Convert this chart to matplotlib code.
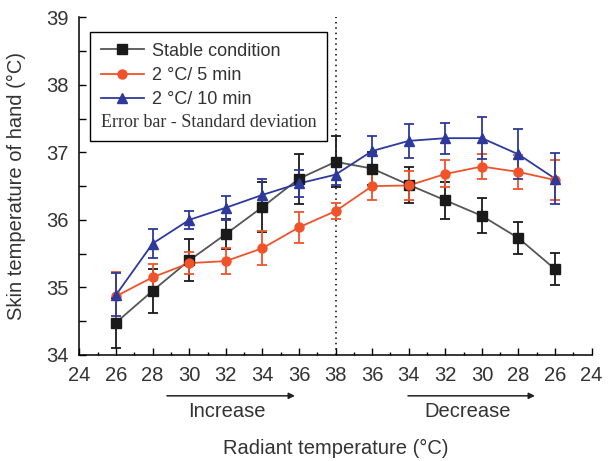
import matplotlib
matplotlib.use('Agg')
import matplotlib.pyplot as plt
from matplotlib.lines import Line2D
import matplotlib.transforms as mtransforms

plt.rcParams['font.family'] = ['Liberation Sans', 'DejaVu Sans']

# x positions 0..14, labels run 24 -> 38 -> 24
tick_labels = ['24', '26', '28', '30', '32', '34', '36', '38',
               '36', '34', '32', '30', '28', '26', '24']
x = list(range(1, 14))

stable = [34.48, 34.95, 35.40, 35.79, 36.19, 36.61, 36.86,
          36.76, 36.52, 36.29, 36.06, 35.73, 35.27]
stable_sd = [0.37, 0.33, 0.31, 0.22, 0.37, 0.37, 0.38,
             0.25, 0.27, 0.27, 0.26, 0.24, 0.24]

min5 = [34.87, 35.15, 35.36, 35.39, 35.58, 35.89, 36.13,
        36.50, 36.51, 36.68, 36.79, 36.71, 36.59]
min5_sd = [0.36, 0.20, 0.16, 0.19, 0.25, 0.23, 0.12,
           0.20, 0.21, 0.20, 0.18, 0.25, 0.30]

min10 = [34.89, 35.65, 36.00, 36.18, 36.37, 36.54, 36.67,
         37.02, 37.17, 37.21, 37.21, 36.97, 36.61]
min10_sd = [0.32, 0.21, 0.13, 0.18, 0.23, 0.20, 0.15,
            0.22, 0.25, 0.23, 0.31, 0.37, 0.38]

fig = plt.figure(figsize=(6.16, 4.61), dpi=100)
ax = fig.add_axes([0.129, 0.23, 0.8315, 0.7325])

ax.axvline(7, color='black', ls=(0, (1, 2.5)), lw=1.1, zorder=1)

series = [
    (stable, stable_sd, '#1a1a1a', '#555555', 's', 'Stable condition'),
    (min5, min5_sd, '#f0532a', '#f0532a', 'o', '2 \u00b0C/ 5 min'),
    (min10, min10_sd, '#2d3a9c', '#2d3a9c', '^', '2 \u00b0C/ 10 min'),
]
handles = []
for y, sd, col, lcol, mk, lab in series:
    ax.errorbar(x, y, yerr=sd, fmt='none', ecolor=col, elinewidth=1.3,
                capsize=3.3, capthick=1.3, zorder=3)
    ax.plot(x, y, color=lcol, lw=1.3, zorder=2)
    ax.plot(x, y, ls='none', marker=mk, color=col, markersize=6.5, zorder=4)
    handles.append(Line2D([], [], color=lcol, lw=1.3, marker=mk,
                          markerfacecolor=col, markeredgecolor=col, markersize=6.5))

ax.set_xlim(0, 14)
ax.set_ylim(34, 39)
ax.set_xticks(range(15))
ax.set_xticklabels(tick_labels)
ax.set_xticks([i + 0.5 for i in range(14)], minor=True)
ax.set_yticks([34, 35, 36, 37, 38, 39])
ax.set_yticks([34.5, 35.5, 36.5, 37.5, 38.5], minor=True)
ax.tick_params(axis='both', which='major', direction='in', length=5,
               labelsize=14.5, width=1, pad=8, labelcolor='#333333')
ax.tick_params(axis='both', which='minor', direction='in', length=2.5, width=1)
ax.tick_params(axis='y', which='minor', length=5)
for s in ['top', 'right']:
    ax.spines[s].set_visible(False)
for s in ['left', 'bottom']:
    ax.spines[s].set_linewidth(1.1)

ax.set_ylabel('Skin temperature of hand (\u00b0C)', fontsize=14.5, labelpad=14,
              color='#333333')
ax.set_xlabel('Radiant temperature (\u00b0C)', fontsize=14.5, labelpad=39,
              color='#333333')

leg = ax.legend(handles, [s[5] for s in series], loc='upper left',
                bbox_to_anchor=(0.02, 0.957), borderaxespad=0,
                fancybox=False, edgecolor='black', framealpha=1,
                fontsize=13, handlelength=2.4, handletextpad=0.45,
                labelspacing=0.4, borderpad=0.6, alignment='left',
                title='Error bar - Standard deviation',
                title_fontproperties={'family': 'Liberation Serif', 'size': 13})
leg.get_frame().set_linewidth(1.0)
for t in leg.get_texts():
    t.set_color('#333333')
leg.get_title().set_color('#333333')
# move the note below the entries
box = leg._legend_box
box._children = [box._children[1], box._children[0]]
box.sep = 4

trans = mtransforms.blended_transform_factory(ax.transData, ax.transAxes)
for x0, x1, txt in [(2.39, 5.89, 'Increase'), (8.98, 12.45, 'Decrease')]:
    ax.annotate('', xy=(x1, -0.121), xytext=(x0, -0.121), xycoords=trans,
                textcoords=trans, annotation_clip=False,
                arrowprops=dict(arrowstyle='-|>', color='#222222', lw=1.1,
                                mutation_scale=9, shrinkA=0, shrinkB=0))
    ax.text((x0 + x1) / 2 - 0.1, -0.168, txt, transform=trans, ha='center',
            va='center', fontsize=14.5, color='#333333')

fig.savefig('out.png', dpi=100)
